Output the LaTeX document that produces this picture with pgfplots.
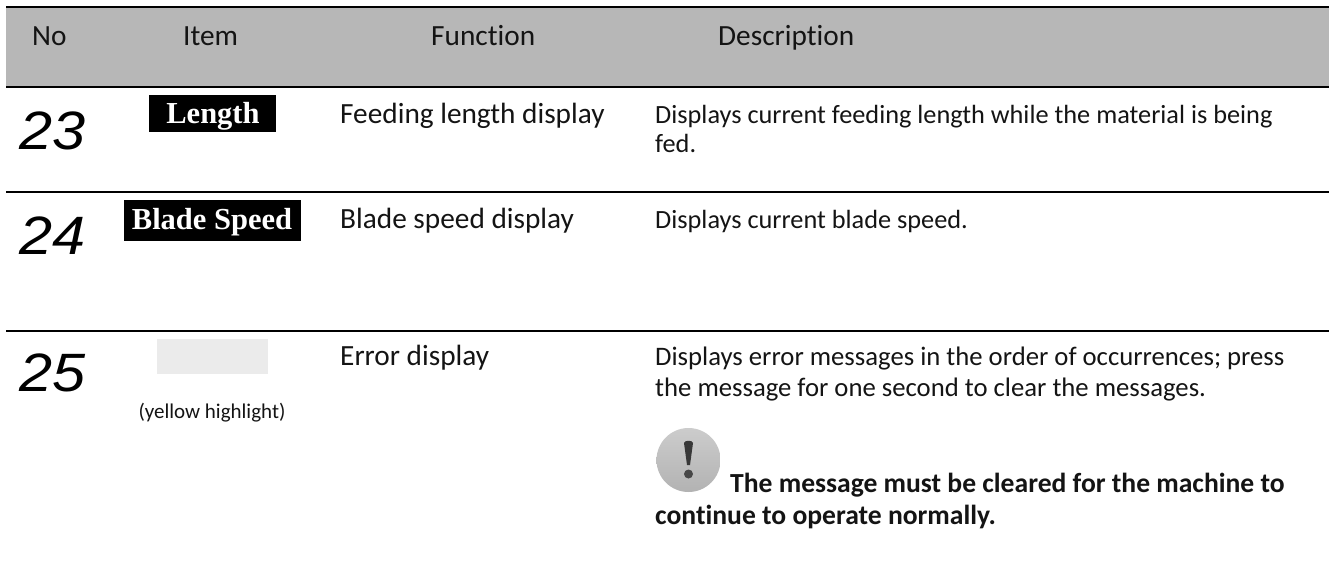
\documentclass[border=0pt]{standalone}
\usepackage{pgfplots}
\usepackage{fontspec}
\pgfplotsset{compat=1.18}
\setmainfont[Ligatures=NoCommon]{Carlito}
\newfontfamily\numf{Liberation Sans}
\newfontfamily\serf{Liberation Serif}
\definecolor{hdr}{HTML}{B7B7B7}
\definecolor{gbox}{HTML}{EBEBEB}
\newcommand{\txt}[4]{\node[anchor=base west,inner sep=0pt,text=black!92] at (axis cs:#1,#2) {\fontsize{#3}{#3}\selectfont #4};}
\begin{document}
\begin{tikzpicture}
\begin{axis}[hide axis,scale only axis,width=1329pt,height=562pt,xmin=0,xmax=1329,ymin=0,ymax=562,y dir=reverse,clip=false,axis on top=false]
\path[use as bounding box] (axis cs:0,0) rectangle (axis cs:1329,562);
% header band and boxes as filled areas
\addplot[draw=none,fill=hdr] coordinates {(6,7)(1329,7)(1329,86)(6,86)} --cycle;
\addplot[draw=none,fill=black] coordinates {(149,95)(276,95)(276,132)(149,132)} --cycle;
\addplot[draw=none,fill=black] coordinates {(124,200)(301,200)(301,241)(124,241)} --cycle;
\addplot[draw=none,fill=gbox] coordinates {(157,339)(268,339)(268,374)(157,374)} --cycle;
% rules
\addplot[black,line width=2pt] coordinates {(6,6.5)(1329,6.5)};
\addplot[black,line width=2pt] coordinates {(6,86.5)(1329,86.5)};
\addplot[black,line width=2pt] coordinates {(6,192)(1329,192)};
\addplot[black,line width=2pt] coordinates {(6,330.5)(1329,330.5)};
% header
\txt{32}{45}{29.3}{No}
\txt{183}{45}{29.3}{Item}
\txt{431}{45}{29.3}{Function}
\txt{718}{45}{29.3}{Description}
% numbers
\node[anchor=base west,inner sep=0pt,xscale=1.1,transform shape] at (axis cs:19,149) {\fontsize{54}{54}\selectfont\numf\itshape 23};
\node[anchor=base west,inner sep=0pt,xscale=1.1,transform shape] at (axis cs:19,254) {\fontsize{54}{54}\selectfont\numf\itshape 24};
\node[anchor=base west,inner sep=0pt,xscale=1.1,transform shape] at (axis cs:19,391) {\fontsize{54}{54}\selectfont\numf\itshape 25};
% item boxes
\node[anchor=base,inner sep=0pt,text=white] at (axis cs:213,123) {\fontsize{30.5}{31}\selectfont\serf\bfseries Length};
\node[anchor=base,inner sep=0pt,text=white] at (axis cs:212,229) {\fontsize{30.5}{31}\selectfont\serf\bfseries Blade Speed};
\node[anchor=base,inner sep=0pt,text=black!92] at (axis cs:212,418) {\fontsize{21}{21}\selectfont (yellow highlight)};
% function
\txt{340}{123}{29.3}{Feeding length display}
\txt{340}{228}{29.3}{Blade speed display}
\txt{340}{365}{29.3}{Error display}
% description
\txt{655}{123}{26.3}{Displays current feeding length while the material is being}
\txt{655}{152}{26.3}{fed.}
\txt{655}{228}{26.3}{Displays current blade speed.}
\txt{655}{365}{26.7}{Displays error messages in the order of occurrences; press}
\txt{655}{396}{26.7}{the message for one second to clear the messages.}
\txt{730}{492}{27.6}{\bfseries The message must be cleared for the machine to}
\txt{655}{524}{27.6}{\bfseries continue to operate normally.}
% icon
\shade[top color=black!20,bottom color=black!30] (axis cs:688.5,460) circle[radius=32pt];
\fill[black!78] (axis cs:684,443) .. controls (axis cs:684,440) and (axis cs:693,440) .. (axis cs:693,443) -- (axis cs:690,465) -- (axis cs:687,465) --cycle;
\fill[black!72] (axis cs:688.5,474) circle[radius=4.5pt];
\end{axis}
\end{tikzpicture}
\end{document}
